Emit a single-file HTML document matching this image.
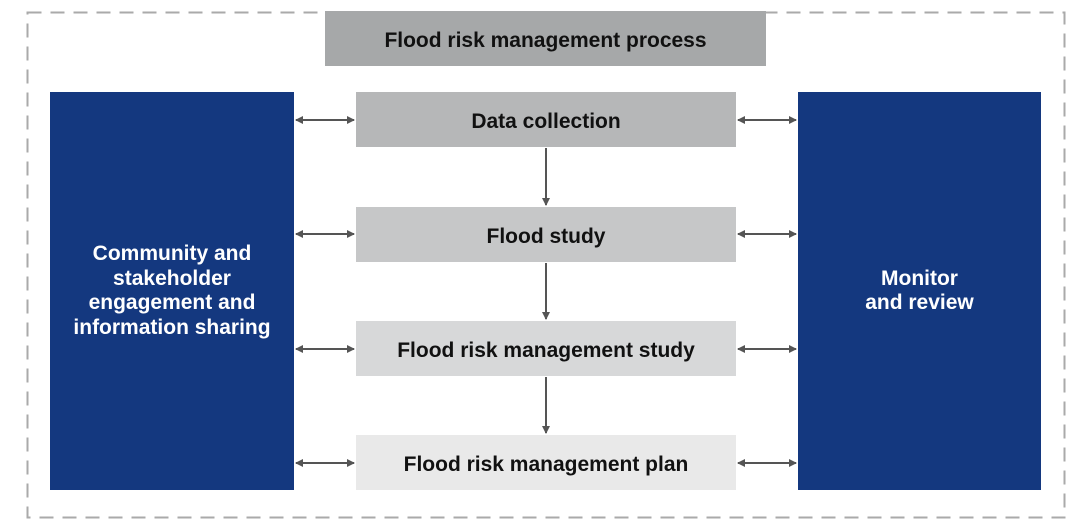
<!DOCTYPE html>
<html><head><style>
body{margin:0;width:1085px;height:530px;background:#fff;position:relative;overflow:hidden;font-family:"Liberation Sans",Arial,sans-serif;font-weight:bold}
.b{position:absolute;display:flex;align-items:center;justify-content:center;text-align:center;box-sizing:border-box;padding-top:4px}
.c{left:356px;width:380px;height:55px;font-size:21px;color:#111}
.blue{background:#14387f;color:#fff;font-size:21px;line-height:24.5px;top:92px;height:398px;width:244px;padding-top:0}
</style></head><body>
<svg width="1085" height="530" style="position:absolute;left:0;top:0">
<defs><marker id="a" markerWidth="8" markerHeight="8" refX="7" refY="4" orient="auto-start-reverse" markerUnits="userSpaceOnUse"><path d="M0,0 L8,4 L0,8z" fill="#555"/></marker></defs>
<rect x="27.5" y="12.5" width="1037" height="505" fill="none" stroke="#aaa" stroke-width="2" stroke-dasharray="14,9"/>
<g stroke="#555" stroke-width="2" marker-start="url(#a)" marker-end="url(#a)">
<line x1="296" y1="120" x2="354" y2="120"/><line x1="296" y1="234" x2="354" y2="234"/>
<line x1="296" y1="349" x2="354" y2="349"/><line x1="296" y1="463" x2="354" y2="463"/>
<line x1="738" y1="120" x2="796" y2="120"/><line x1="738" y1="234" x2="796" y2="234"/>
<line x1="738" y1="349" x2="796" y2="349"/><line x1="738" y1="463" x2="796" y2="463"/>
</g>
<g stroke="#555" stroke-width="2" marker-end="url(#a)">
<line x1="546" y1="148" x2="546" y2="205"/><line x1="546" y1="263" x2="546" y2="319"/><line x1="546" y1="377" x2="546" y2="433"/>
</g>
</svg>
<div class="b" style="left:325px;top:11px;width:441px;height:55px;background:#a6a8a9;font-size:21px;color:#111">Flood risk management process</div>
<div class="b c" style="top:92px;background:#b6b7b8">Data collection</div>
<div class="b c" style="top:207px;background:#c6c7c8">Flood study</div>
<div class="b c" style="top:321px;background:#d7d8d9">Flood risk management study</div>
<div class="b c" style="top:435px;background:#e9e9e9">Flood risk management plan</div>
<div class="b blue" style="left:50px">Community and<br>stakeholder<br>engagement and<br>information sharing</div>
<div class="b blue" style="left:798px;width:243px">Monitor<br>and review</div>
</body></html>
